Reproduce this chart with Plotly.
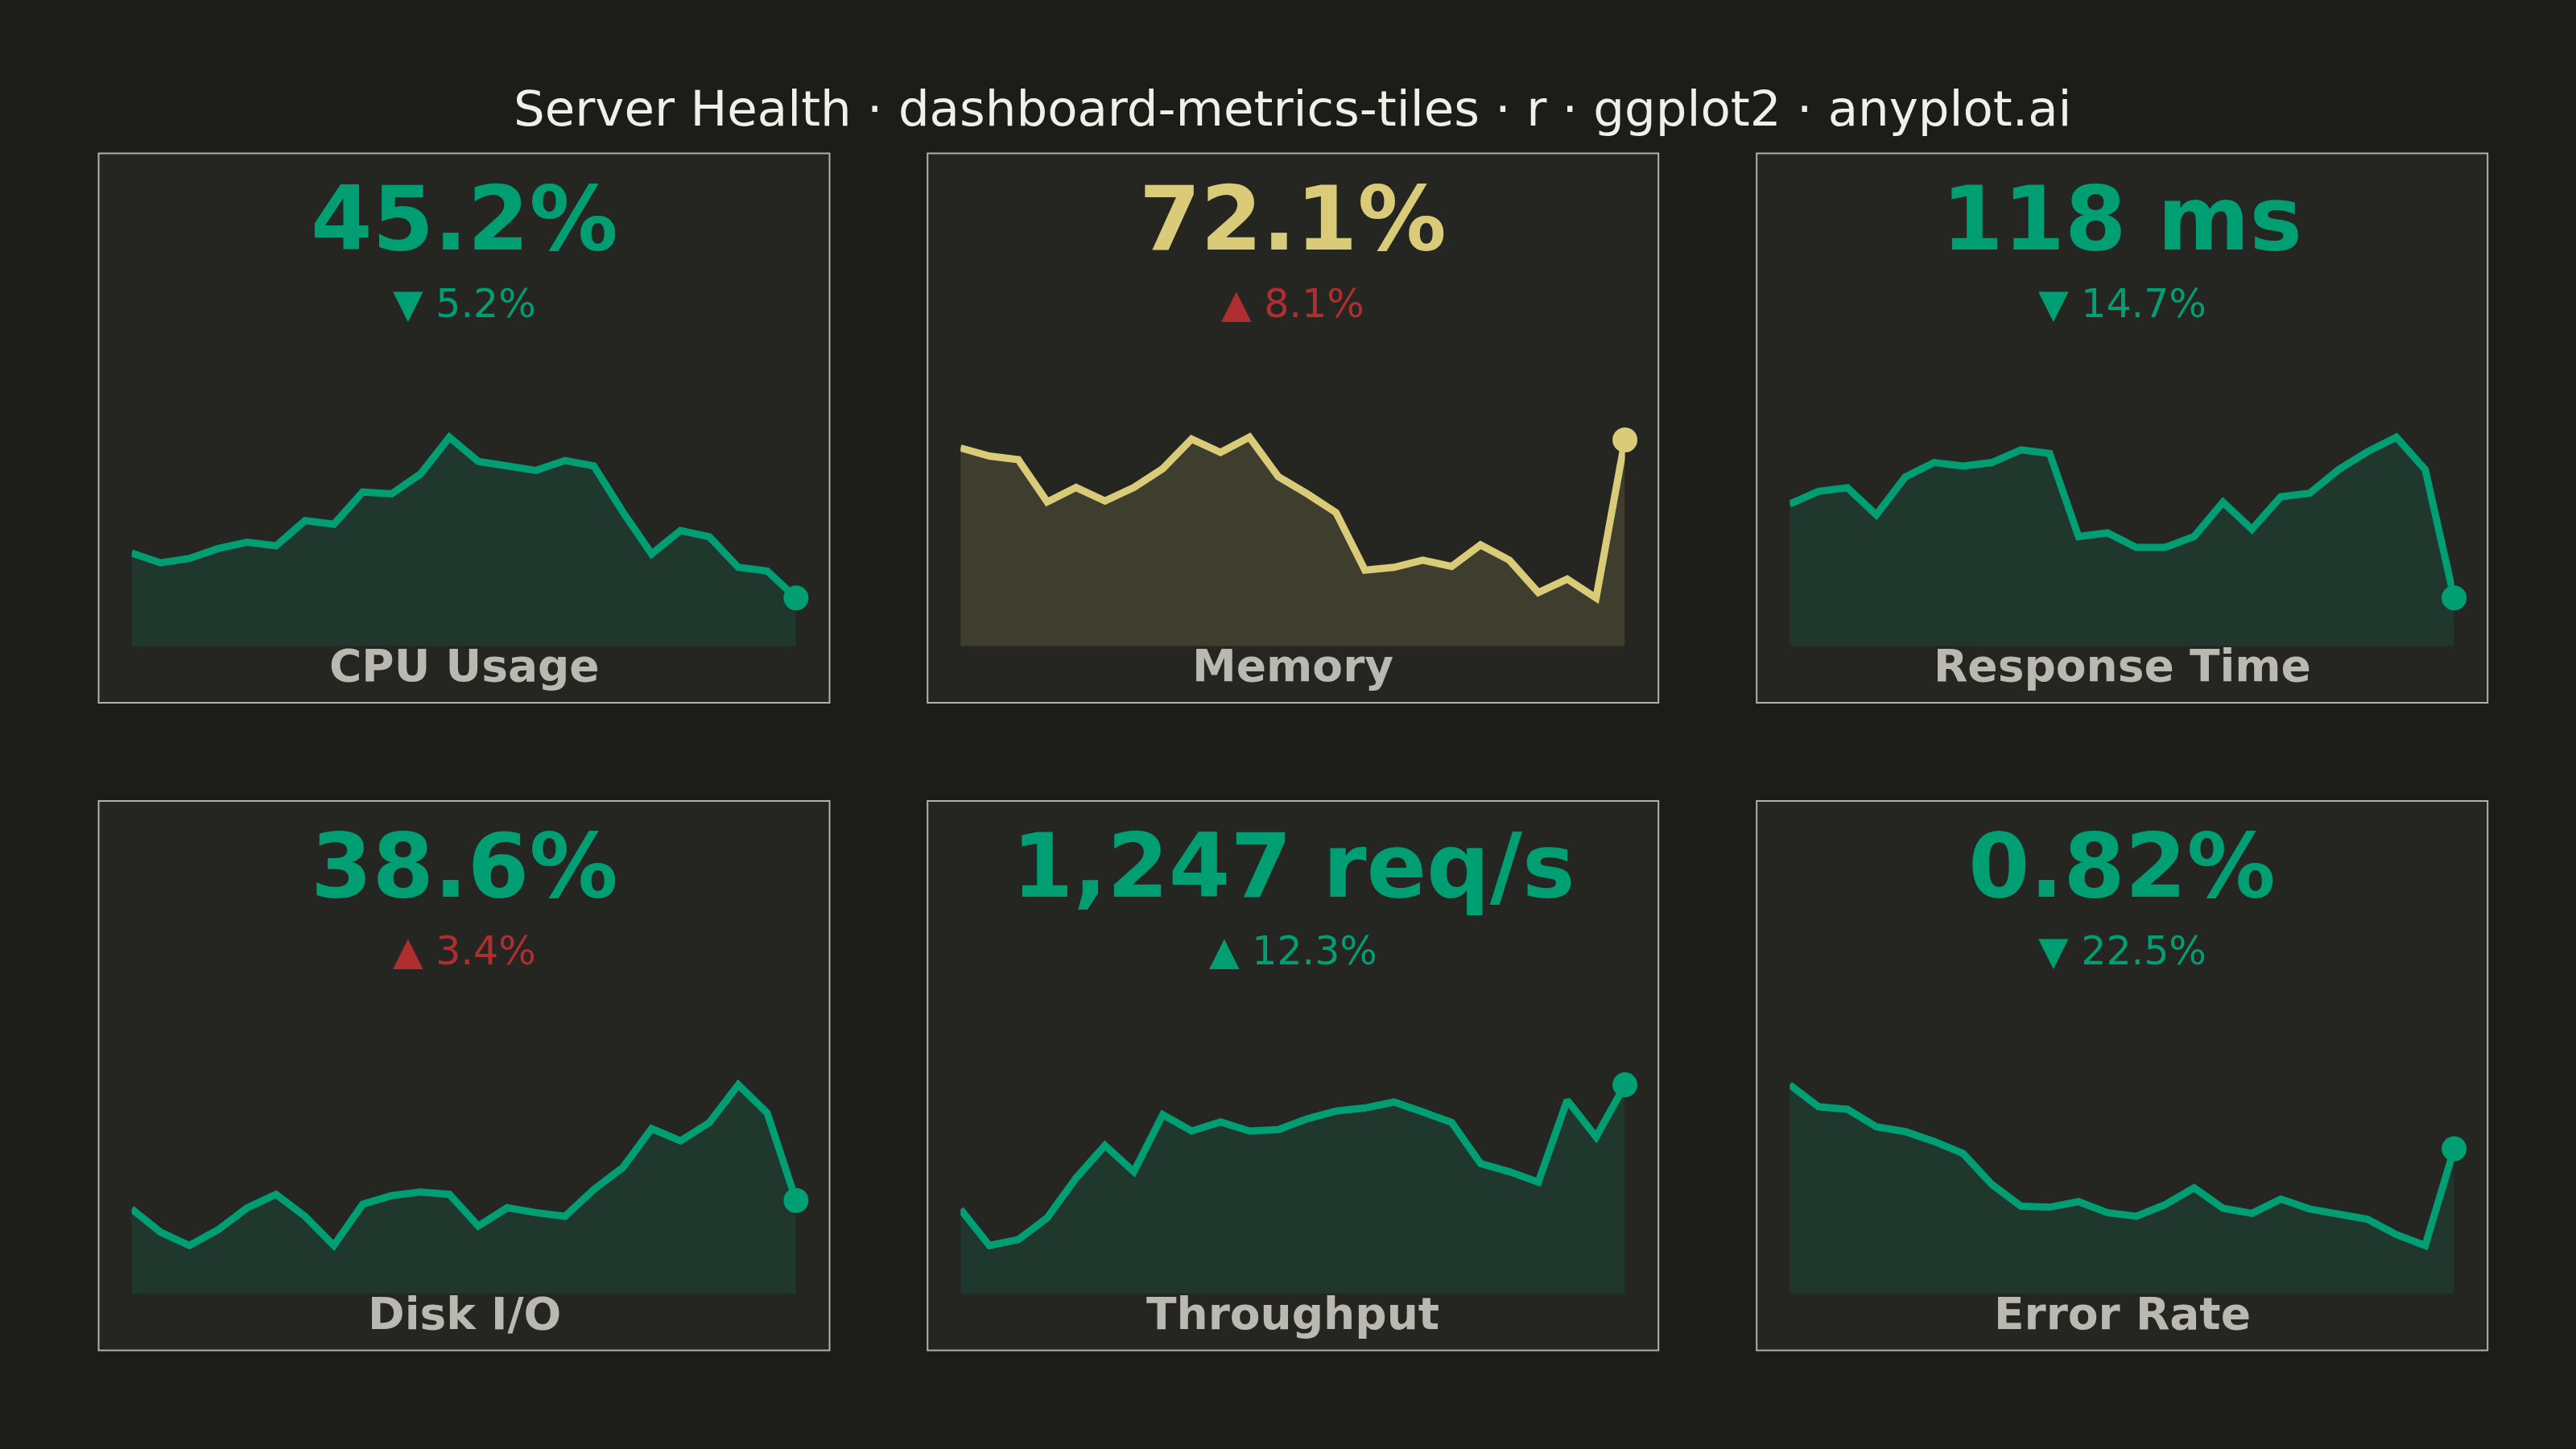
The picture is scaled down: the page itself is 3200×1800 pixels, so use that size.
import plotly.graph_objects as go

W, H = 3200, 1800

# --- data -----------------------------------------------------------------
hours = [0, 1, 2, 3, 4, 5, 6, 7, 8, 9, 10, 11,
         12, 13, 14, 15, 16, 17, 18, 19, 20, 21, 22, 23]

cpu_usage = [50.2, 49.1, 49.6, 50.7, 51.4, 51.0, 53.8, 53.4, 57.0, 56.8, 59.0, 63.1,
             60.4, 59.8, 59.4, 60.5, 59.9, 54.8, 50.1, 52.7, 52.0, 48.6, 48.2, 45.2]
memory_usage = [71.2, 70.3, 69.9, 65.2, 66.8, 65.3, 66.8, 68.9, 72.2, 70.7, 72.4, 68.0,
                66.1, 64.0, 57.6, 57.9, 58.7, 58.0, 60.4, 58.7, 55.1, 56.6, 54.5, 72.1]
response_ms = [170, 177, 179, 164, 185, 193, 191, 193, 200, 198, 152, 154,
               146, 146, 152, 171, 156, 174, 176, 189, 199, 207, 189, 118]
disk_io = [37.9, 36.0, 34.9, 36.2, 38.0, 39.1, 37.3, 34.9, 38.3, 39.0, 39.3, 39.1,
           36.5, 38.0, 37.6, 37.3, 39.5, 41.3, 44.5, 43.5, 45.0, 48.1, 45.8, 38.6]
throughput = [972, 892, 905, 953, 1041, 1113, 1055, 1181, 1145, 1165, 1145, 1148,
              1172, 1189, 1196, 1209, 1187, 1164, 1073, 1055, 1032, 1213, 1132, 1247]
error_rate = [0.995, 0.935, 0.928, 0.880, 0.867, 0.840, 0.807, 0.722, 0.663, 0.660, 0.675, 0.645,
              0.635, 0.667, 0.713, 0.657, 0.643, 0.682, 0.655, 0.642, 0.627, 0.585, 0.555, 0.820]

tile_names = ["CPU Usage", "Memory", "Response Time", "Disk I/O", "Throughput", "Error Rate"]
tile_values = ["45.2%", "72.1%", "118 ms", "38.6%", "1,247 req/s", "0.82%"]
tile_deltas = ["▼ 5.2%", "▲ 8.1%", "▼ 14.7%", "▲ 3.4%", "▲ 12.3%", "▼ 22.5%"]
tile_status = ["good", "warn", "good", "good", "good", "good"]
delta_bad = [False, True, False, True, False, False]
series = [cpu_usage, memory_usage, response_ms, disk_io, throughput, error_rate]

# --- style ----------------------------------------------------------------
BG = "#1C1C18"
TILE_BG = "#252521"
BORDER = "#B0B1A9"
GOOD = "#009E73"
WARN = "#DACB78"
BAD = "#AF2F31"
LABEL = "#B9B9B1"
TITLE = "#F0EFE8"
FILL = {"good": "rgba(0,158,115,0.15)", "warn": "rgba(218,203,120,0.15)"}
LINE = {"good": GOOD, "warn": WARN}
FONT = "DejaVu Sans"

COL_LEFT = [122.5, 1152.2, 2182.2]
ROW_TOP = [190.5, 995.0]
TILE_W, TILE_H = 908.0, 682.5


def px_x(v):
    return v / W


def px_y(v):
    return 1 - v / H


fig = go.Figure()
shapes, annotations = [], []

for i, vals in enumerate(series):
    r, c = divmod(i, 3)
    left, top = COL_LEFT[c], ROW_TOP[r]
    st = tile_status[i]
    ax = "" if i == 0 else str(i + 1)

    # tile background + border
    shapes.append(dict(type="rect", xref="paper", yref="paper", layer="below",
                       x0=px_x(left), x1=px_x(left + TILE_W),
                       y0=px_y(top + TILE_H), y1=px_y(top),
                       fillcolor=TILE_BG, line=dict(color=BORDER, width=2)))

    # sparkline area + line + end point
    fig.add_trace(go.Scatter(x=hours, y=vals, mode="lines", fill="tozeroy",
                             fillcolor=FILL[st], line=dict(color=LINE[st], width=9),
                             xaxis="x" + ax, yaxis="y" + ax, hoverinfo="skip",
                             showlegend=False))
    fig.add_trace(go.Scatter(x=hours[-1:], y=vals[-1:], mode="markers",
                             marker=dict(color=LINE[st], size=31), cliponaxis=False,
                             xaxis="x" + ax, yaxis="y" + ax, hoverinfo="skip",
                             showlegend=False))

    lo, hi = min(vals), max(vals)
    rng = hi - lo
    base = top + 612.1
    span = 199.6 * 1.5
    fig.layout["xaxis" + ax] = dict(domain=[px_x(left + 41), px_x(left + 866.4)],
                                    range=[hours[0], hours[-1]], visible=False,
                                    anchor="y" + ax)
    fig.layout["yaxis" + ax] = dict(domain=[px_y(base), px_y(base - span)],
                                    range=[lo - 0.3 * rng, hi + 0.2 * rng], visible=False,
                                    anchor="x" + ax)

    cx = px_x(left + TILE_W / 2)
    annotations.append(dict(xref="paper", yref="paper", x=cx, y=px_y(top + 81.3),
                            text=tile_values[i], showarrow=False,
                            xanchor="center", yanchor="middle",
                            font=dict(family=FONT, size=110, weight="bold",
                                      color=LINE[st])))
    annotations.append(dict(xref="paper", yref="paper", x=cx, y=px_y(top + 186.7),
                            text=tile_deltas[i], showarrow=False,
                            xanchor="center", yanchor="middle",
                            font=dict(family=FONT, size=49,
                                      color=BAD if delta_bad[i] else GOOD)))
    annotations.append(dict(xref="paper", yref="paper", x=cx, y=px_y(top + 636.6),
                            text=tile_names[i], showarrow=False,
                            xanchor="center", yanchor="middle",
                            font=dict(family=FONT, size=55, weight="bold", color=LABEL)))

annotations.append(dict(xref="paper", yref="paper", x=px_x(1605), y=px_y(134.2),
                        text="Server Health · dashboard-metrics-tiles · r · ggplot2 · anyplot.ai",
                        showarrow=False, xanchor="center", yanchor="middle",
                        font=dict(family=FONT, size=61, color=TITLE)))

fig.update_layout(width=W, height=H, margin=dict(l=0, r=0, t=0, b=0),
                  paper_bgcolor=BG, plot_bgcolor="rgba(0,0,0,0)",
                  shapes=shapes, annotations=annotations, showlegend=False)

fig.write_html("out.html", config={"displayModeBar": False},
               post_script="document.body.style.margin='0';"
                           "document.body.style.background='" + BG + "';")
